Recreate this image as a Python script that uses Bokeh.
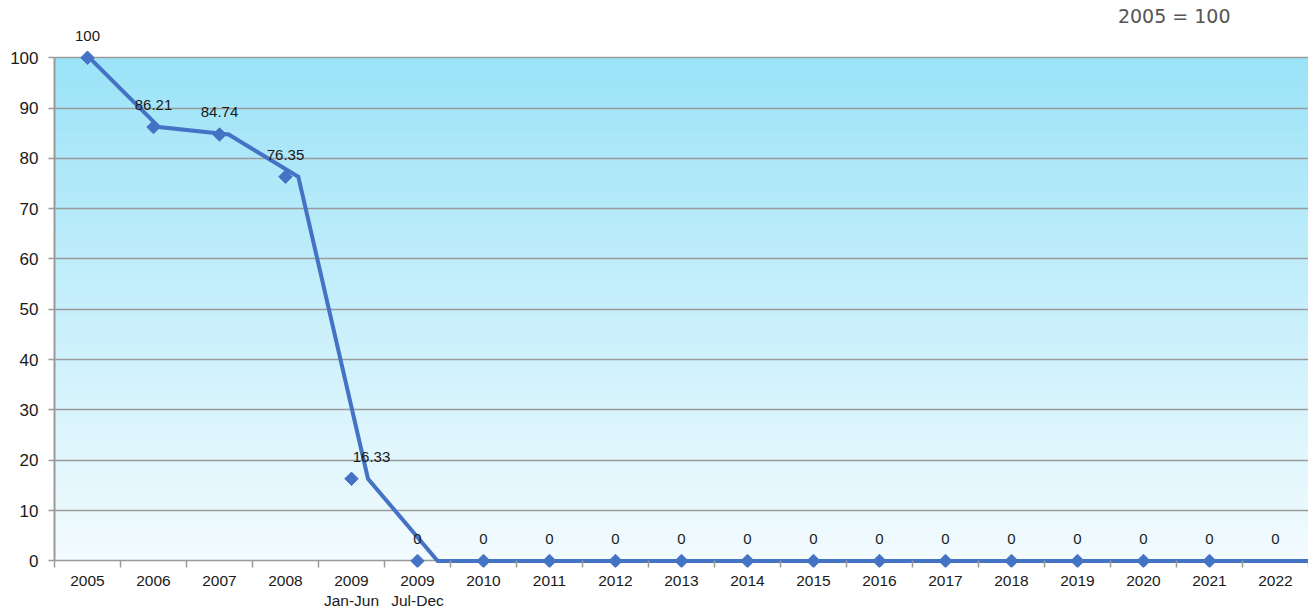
import numpy as np
from bokeh.plotting import figure
from bokeh.models import Range1d, FixedTicker, ColumnDataSource, LabelSet
from bokeh.core.properties import value
from bokeh.embed import file_html
from bokeh.resources import INLINE

# ---------------- data ----------------
categories = ["2005", "2006", "2007", "2008", "2009", "2009", "2010", "2011", "2012",
              "2013", "2014", "2015", "2016", "2017", "2018", "2019", "2020", "2021", "2022"]
sub_labels = ["", "", "", "", "Jan-Jun", "Jul-Dec", "", "", "", "", "", "", "", "", "", "", "", "", ""]
values = [100, 86.21, 84.74, 76.35, 16.33, 0, 0, 0, 0, 0, 0, 0, 0, 0, 0, 0, 0, 0, 0]
value_labels = ["100", "86.21", "84.74", "76.35", "16.33", "0", "0", "0", "0", "0",
                "0", "0", "0", "0", "0", "0", "0", "0", "0"]
marker_shown = [True] * 18 + [False]
y_ticks = [0, 10, 20, 30, 40, 50, 60, 70, 80, 90, 100]
note = "2005 = 100"

# ---------------- styling ----------------
BLUE = "#4472C4"
GRID = "#9a9a9a"
FONT = "Liberation Sans"
TXT = "#1a1a1a"

n = len(categories)
centers = [i + 0.5 for i in range(n)]
boundaries = list(range(n + 1))
# the line series is laid out on a slightly stretched spacing (as in the original)
line_x = [(i + 0.5) * n / (n - 1) for i in range(n)]

p = figure(width=1308, height=613, output_backend="svg", toolbar_location=None,
           x_range=Range1d(0, n), y_range=Range1d(-1.3, 105.8),
           min_border_left=54, min_border_right=0, min_border_top=28, min_border_bottom=46,
           title=note)
p.background_fill_color = "white"
p.border_fill_color = "white"
p.outline_line_color = None

# note as right-aligned title
p.title.align = "right"
p.title.offset = 78
p.title.standoff = 4
p.title.text_font = "DejaVu Sans"
p.title.text_font_style = "normal"
p.title.text_font_size = "19px"
p.title.text_color = "#555555"

# gradient background (0..100)
nb = 120
edges = np.linspace(0, 100, nb + 1)
top_c = np.array([155, 227, 248])
bot_c = np.array([243, 251, 254])
cols = []
for k in range(nb):
    t = (edges[k] + edges[k + 1]) / 2 / 100
    c = bot_c + (top_c - bot_c) * t
    cols.append("#%02x%02x%02x" % tuple(int(round(v)) for v in c))
p.quad(left=0, right=n, bottom=edges[:-1], top=edges[1:], fill_color=cols,
       line_color=cols, line_width=1, level="image")

# grid
p.xgrid.visible = False
p.ygrid.ticker = FixedTicker(ticks=y_ticks)
p.ygrid.grid_line_color = GRID
p.ygrid.grid_line_width = 1.5

# line
p.line(line_x, values, line_color=BLUE, line_width=4, line_join="miter")

# markers
mx = [c for c, s in zip(centers, marker_shown) if s]
my = [v for v, s in zip(values, marker_shown) if s]
p.scatter(mx, my, marker="square", size=9.5, angle=np.pi / 4, fill_color=BLUE, line_color=BLUE)

# data labels
dx = [0] * n
dx[4] = 20
src = ColumnDataSource(dict(x=centers, y=values, t=value_labels, dx=dx))
p.add_layout(LabelSet(x="x", y="y", text="t", source=src, x_offset="dx", y_offset=22,
                      text_align="center", text_baseline="middle", text_font=value(FONT),
                      text_font_size=value("15px"), text_color=value(TXT)))

# axes
xa = p.xaxis[0]
xa.ticker = FixedTicker(ticks=centers, minor_ticks=boundaries)
xa.major_label_overrides = {c: (lab + "\n" + sub if sub else lab)
                            for c, lab, sub in zip(centers, categories, sub_labels)}
xa.axis_line_color = None
xa.major_tick_in = 0
xa.major_tick_out = 0
xa.minor_tick_in = 7
xa.minor_tick_out = 0
xa.minor_tick_line_color = GRID
xa.minor_tick_line_width = 1.5
xa.major_label_standoff = 4
xa.major_label_text_font = FONT
xa.major_label_text_font_size = "15.5px"
xa.major_label_text_line_height = 1.2
xa.major_label_text_color = TXT

ya = p.yaxis[0]
ya.ticker = FixedTicker(ticks=y_ticks)
ya.bounds = (0, 100)
ya.axis_line_color = GRID
ya.axis_line_width = 2
ya.major_tick_line_color = GRID
ya.major_tick_line_width = 1.5
ya.major_tick_in = 0
ya.major_tick_out = 6
ya.minor_tick_line_color = None
ya.major_label_standoff = 10
ya.major_label_text_font = FONT
ya.major_label_text_font_size = "17px"
ya.major_label_text_color = TXT

open("out.html", "w").write(file_html(p, INLINE))
